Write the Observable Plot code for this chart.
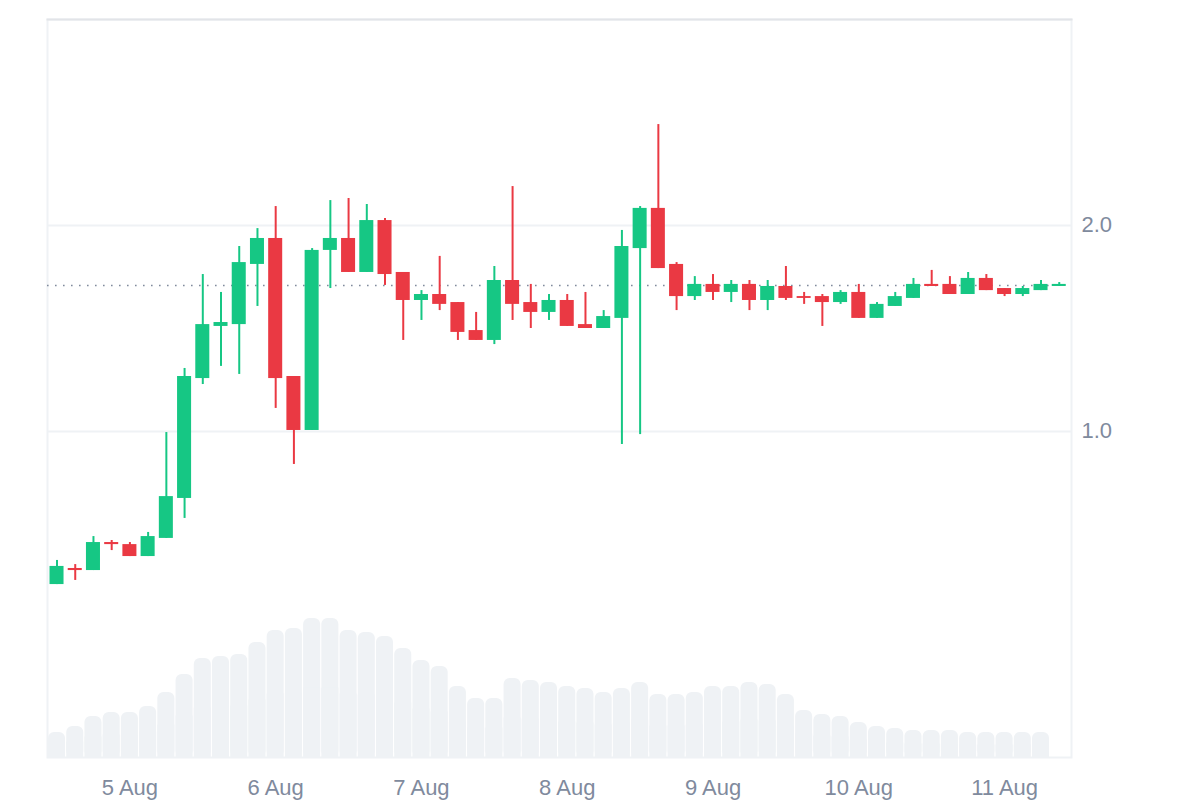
<!DOCTYPE html>
<html>
<head>
<meta charset="utf-8">
<script src="https://cdn.jsdelivr.net/npm/d3@7"></script>
<script src="https://cdn.jsdelivr.net/npm/@observablehq/plot@0.6"></script>
<style>
html,body{margin:0;padding:0;background:#fff}
svg{display:block}
</style>
</head>
<body>
<div id="chart"></div>
<script>
const opens = [.257,.335,.325,.461,.451,.393,.481,.675,1.257,1.510,1.519,1.811,1.937,1.267,1.005,1.879,1.937,1.772,2.024,1.772,1.636,1.665,1.626,1.490,1.442,1.733,1.626,1.578,1.636,1.519,1.500,1.549,1.888,2.083,1.811,1.655,1.714,1.675,1.714,1.636,1.704,1.655,1.655,1.626,1.675,1.549,1.607,1.646,1.714,1.714,1.665,1.743,1.694,1.665,1.684,1.704];
const closes = [.345,.325,.461,.451,.393,.490,.684,1.267,1.519,1.529,1.820,1.937,1.257,1.005,1.879,1.937,1.772,2.024,1.762,1.636,1.665,1.617,1.481,1.442,1.733,1.617,1.578,1.636,1.510,1.500,1.558,1.898,2.083,1.791,1.655,1.714,1.675,1.714,1.636,1.704,1.646,1.646,1.626,1.675,1.549,1.617,1.655,1.714,1.704,1.665,1.743,1.684,1.665,1.694,1.714,1.714];
const highs = [.374,.354,.490,.471,.461,.510,.995,1.306,1.762,1.675,1.898,1.985,2.092,1.267,1.888,2.121,2.131,2.102,2.034,1.772,1.684,1.850,1.626,1.578,1.801,2.189,1.714,1.665,1.665,1.675,1.587,1.976,2.092,2.490,1.820,1.752,1.762,1.733,1.733,1.733,1.801,1.675,1.665,1.684,1.714,1.626,1.675,1.743,1.782,1.752,1.772,1.762,1.694,1.704,1.733,1.723];
const lows = [.257,.277,.325,.422,.393,.393,.481,.578,1.228,1.316,1.277,1.607,1.112,.840,1.005,1.694,1.772,1.772,1.709,1.442,1.539,1.587,1.442,1.442,1.422,1.539,1.500,1.539,1.510,1.500,1.500,.937,.985,1.791,1.587,1.636,1.636,1.626,1.587,1.587,1.636,1.617,1.510,1.617,1.549,1.549,1.607,1.646,1.704,1.665,1.665,1.684,1.655,1.655,1.684,1.704];
const volumes = [25,31,41,45,45,51,65,83,99,101,103,115,127,129,139,139,127,125,121,109,97,91,71,59,59,79,77,75,71,69,65,69,75,63,63,65,71,71,75,73,63,47,43,41,35,31,29,27,27,27,25,25,25,25,25];
const firstCandle = "2024-08-04T12:00:00Z";
const candleHours = 3;
const currentPrice = 1.709;
const priceTicks = [1, 2];
const xDomain = [new Date("2024-08-04T10:26:00Z"), new Date("2024-08-11T11:01:00Z")];
const yDomain = [-0.5825, 3];
const volumeHeadroom = 0.675; // share of the price axis the tallest volume bar occupies

const GREEN = "#16C784", RED = "#EA3943", PALE = "#EFF2F5", TOPLINE = "#E2E4E8", TEXT = "#808A9D";

const start = new Date(firstCandle);
const candles = opens.map((open, i) => {
  const t = d3.utcHour.offset(start, candleHours * i);
  return {
    t, open, close: closes[i], high: highs[i], low: lows[i],
    x1: d3.utcMinute.offset(t, -candleHours * 30),
    x2: d3.utcMinute.offset(t, candleHours * 30),
    color: closes[i] >= open ? GREEN : RED
  };
});
const volToPrice = d3.scaleLinear([0, d3.max(volumes)], [yDomain[0], yDomain[0] + volumeHeadroom]);
const volumeRows = volumes.map((v, i) => ({
  x1: candles[i].x1, x2: candles[i].x2,
  y1: yDomain[0], y2: volToPrice(v), yHalf: volToPrice(v / 2)
}));

const plot = Plot.plot({
  width: 1200, height: 800,
  marginLeft: 47, marginRight: 129, marginTop: 19, marginBottom: 43,
  style: {fontFamily: "'Liberation Sans', Arial, sans-serif", fontSize: "22px", background: "#fff"},
  x: {type: "utc", domain: xDomain},
  y: {domain: yDomain},
  marks: [
    Plot.frame({stroke: PALE, strokeWidth: 2}),
    Plot.frame({anchor: "top", stroke: TOPLINE, strokeWidth: 2}),
    Plot.ruleY(priceTicks, {stroke: PALE, strokeWidth: 2}),
    Plot.ruleY([currentPrice], {
      x1: () => xDomain[0], x2: () => candles[candles.length - 1].x1,
      stroke: TEXT, strokeWidth: 1.6, strokeDasharray: "1.6 6.4"
    }),
    Plot.rect(volumeRows, {x1: "x1", x2: "x2", y1: "y1", y2: "y2", fill: PALE, insetLeft: 0.6, insetRight: 0.6, rx: 6}),
    Plot.rect(volumeRows, {x1: "x1", x2: "x2", y1: "y1", y2: "yHalf", fill: PALE, insetLeft: 0.6, insetRight: 0.6}),
    Plot.ruleX(candles, {x: "t", y1: "low", y2: "high", stroke: "color", strokeWidth: 2}),
    Plot.rect(candles, {x1: "x1", x2: "x2", y1: "open", y2: "close", fill: "color", insetLeft: 2.1, insetRight: 2.1}),
    Plot.axisX({
      ticks: d3.utcDay, tickFormat: d3.utcFormat("%-d %b"),
      tickSize: 0, tickPadding: 22, label: null, color: TEXT
    }),
    Plot.axisY({
      anchor: "right", ticks: priceTicks, tickFormat: d3.format(".1f"),
      tickSize: 0, tickPadding: 10, dy: -1, label: null, color: TEXT
    })
  ]
});
document.getElementById("chart").appendChild(plot);
</script>
</body>
</html>
